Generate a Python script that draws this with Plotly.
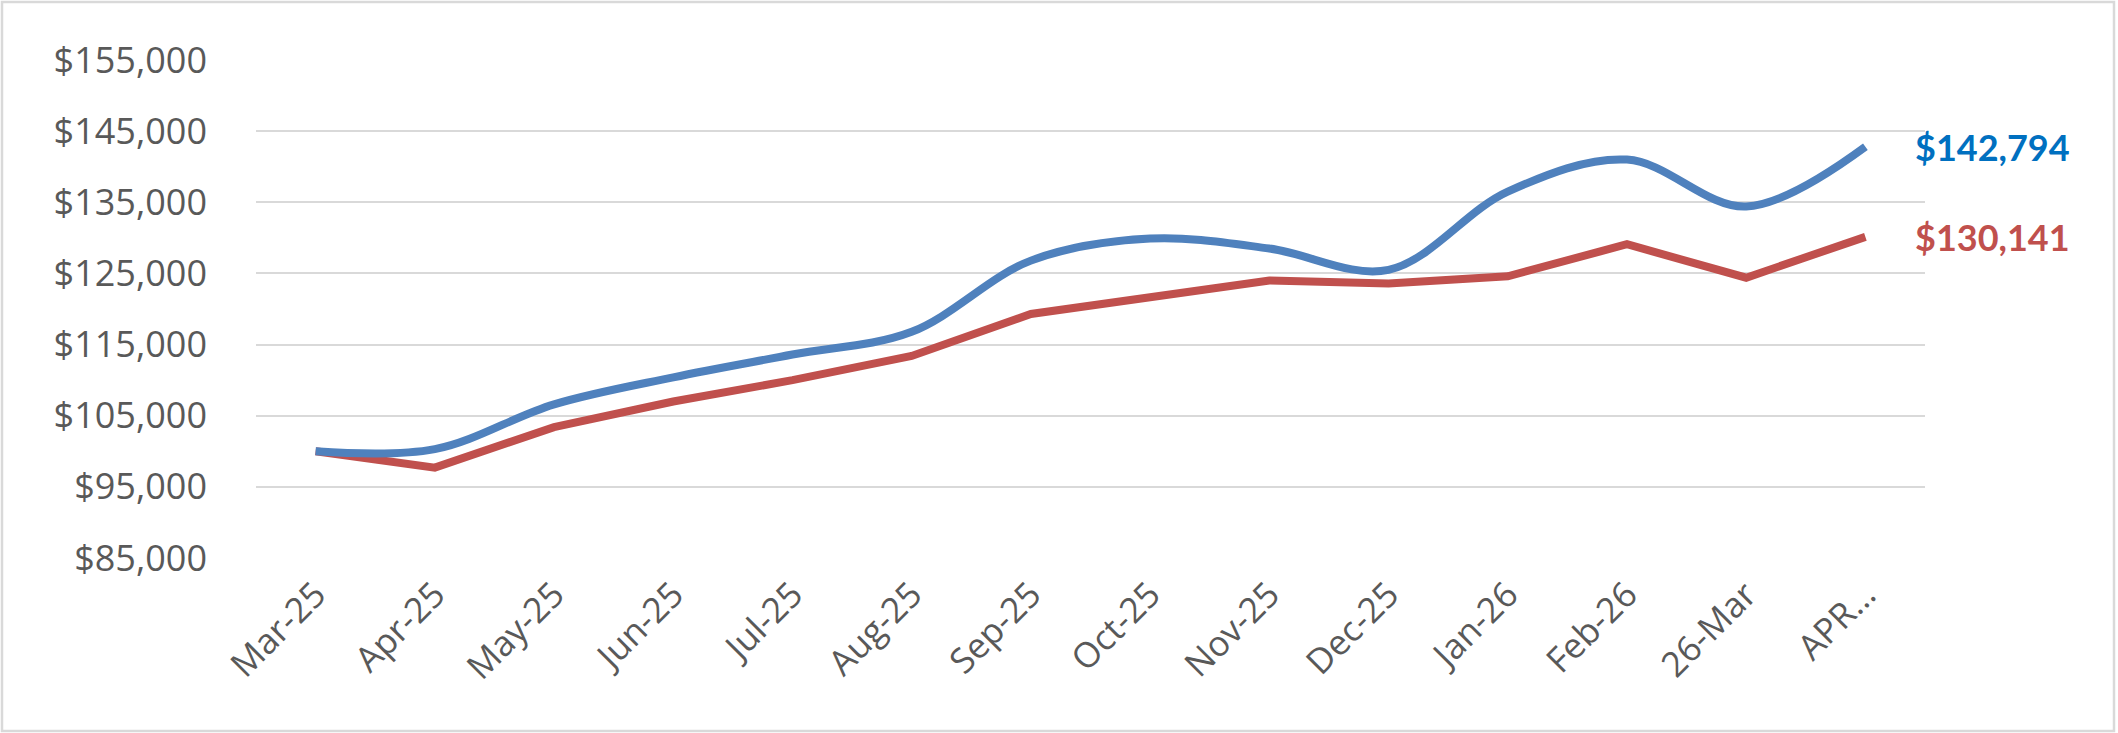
import plotly.graph_objects as go

categories = ["Mar-25", "Apr-25", "May-25", "Jun-25", "Jul-25", "Aug-25", "Sep-25",
              "Oct-25", "Nov-25", "Dec-25", "Jan-26", "Feb-26", "26-Mar", "APR…"]
blue_values = [100000, 100300, 106600, 110400, 113600, 116800, 126800,
               129900, 128500, 125500, 136500, 141000, 134400, 142794]
red_values = [100000, 97700, 103400, 107000, 110000, 113400, 119300,
              121700, 124000, 123600, 124600, 129100, 124400, 130141]
y_ticks = [85000, 95000, 105000, 115000, 125000, 135000, 145000, 155000]

BLUE = "#4F81BD"
RED = "#C0504D"
BLUE_TXT = "#0070C0"

fig = go.Figure()
fig.add_trace(go.Scatter(x=categories, y=red_values, mode="lines",
                         line=dict(color=RED, width=8), showlegend=False,
                         hoverinfo="skip"))
fig.add_trace(go.Scatter(x=categories, y=blue_values, mode="lines",
                         line=dict(color=BLUE, width=8, shape="spline", smoothing=1.0),
                         showlegend=False, hoverinfo="skip"))

fig.add_annotation(x=categories[-1], y=blue_values[-1], text=f"${blue_values[-1]:,}",
                   showarrow=False, xanchor="left", yanchor="middle", xshift=48,
                   font=dict(family="Lato", size=36, color=BLUE_TXT, weight="bold"))
fig.add_annotation(x=categories[-1], y=red_values[-1], text=f"${red_values[-1]:,}",
                   showarrow=False, xanchor="left", yanchor="middle", xshift=48,
                   font=dict(family="Lato", size=36, color=RED, weight="bold"))

L, R, T, B = 256, 193, 60, 175
W, H = 2118, 733
pw, ph = W - L - R, H - T - B
# outer chart border
fig.add_shape(type="rect", xref="paper", yref="paper",
              x0=(2 - L) / pw, x1=(W - 4 - L) / pw,
              y0=-(H - 2 - T - ph) / ph, y1=1 + (T - 2) / ph,
              line=dict(color="#D9D9D9", width=2.5), fillcolor="rgba(0,0,0,0)", layer="below")

fig.update_layout(
    width=W, height=H,
    margin=dict(l=L, r=R, t=T, b=B),
    paper_bgcolor="white", plot_bgcolor="white",
    font=dict(family="Open Sans", color="#595959", size=36),
    xaxis=dict(type="category", range=[-0.5, len(categories) - 0.5],
               showgrid=False, zeroline=False, showline=False, ticks="",
               tickangle=-45, tickfont=dict(size=35, color="#595959"),
               ticklabelstandoff=8),
    yaxis=dict(range=[85000, 155000], tickvals=y_ticks,
               ticktext=[f"${v:,}" for v in y_ticks],
               showgrid=True, gridcolor="#D9D9D9", gridwidth=2,
               zeroline=False, showline=False, ticks="",
               tickfont=dict(size=36, color="#595959"),
               ticklabelstandoff=48),
)

fig.write_html("out.html")
